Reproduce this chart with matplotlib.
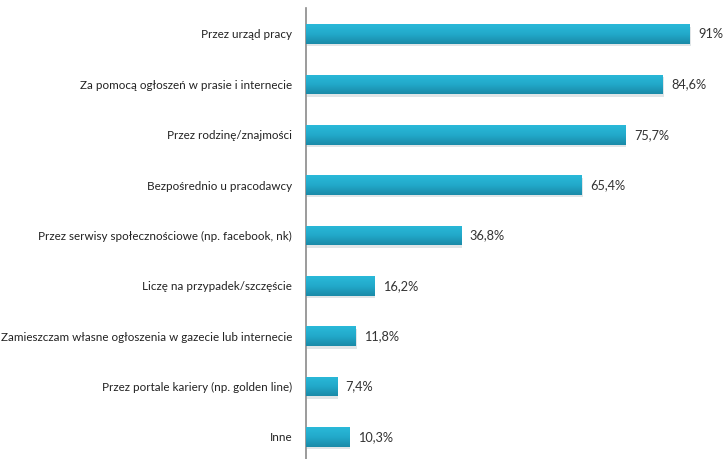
import matplotlib
matplotlib.use("Agg")
import matplotlib.pyplot as plt
import matplotlib.transforms as mtransforms
import numpy as np
from matplotlib.colors import LinearSegmentedColormap

categories = [
    "Przez urząd pracy",
    "Za pomocą ogłoszeń w prasie i internecie",
    "Przez rodzinę/znajmości",
    "Bezpośrednio u pracodawcy",
    "Przez serwisy społecznościowe (np. facebook, nk)",
    "Liczę na przypadek/szczęście",
    "Zamieszczam własne ogłoszenia w gazecie lub internecie",
    "Przez portale kariery (np. golden line)",
    "Inne",
]
values = [91, 84.6, 75.7, 65.4, 36.8, 16.2, 11.8, 7.4, 10.3]
value_labels = ["91%", "84,6%", "75,7%", "65,4%", "36,8%", "16,2%", "11,8%", "7,4%", "10,3%"]

plt.rcParams['font.family'] = ['Lato', 'DejaVu Sans']

fig = plt.figure(figsize=(7.25, 4.59), dpi=100)
ax = fig.add_axes([306/725, 0, 1 - 306/725, 1 - 8/459])

y = np.arange(len(categories))
bar_h = 0.39

# shadow
shadow_tr = ax.transData + mtransforms.ScaledTranslation(1.0/100, -2.5/100, fig.dpi_scale_trans)
ax.barh(y, values, height=bar_h, color="#c3cdd0", alpha=0.5, transform=shadow_tr, zorder=1)

bars = ax.barh(y, values, height=bar_h, color="#1fa6c7", zorder=2)

cmap = LinearSegmentedColormap.from_list("g", ["#2ab9d9", "#22a9ca", "#1a8aa8"])
grad = np.linspace(0, 1, 64).reshape(-1, 1)
for b in bars:
    x0, y0 = b.get_x(), b.get_y()
    w, h = b.get_width(), b.get_height()
    # y axis is inverted: y0 is visually the top edge
    im = ax.imshow(grad, extent=[x0, x0 + w, y0 + h, y0], aspect="auto",
                   cmap=cmap, origin="upper", zorder=3)
    im.set_clip_path(b)

for yi, v, lab in zip(y, values, value_labels):
    ax.text(v + 2.0, yi, lab, va="center", ha="left", fontsize=9.2, color="#333333", zorder=4)

ax.set_yticks(y)
ax.set_yticklabels(categories, fontsize=8.4, color="#222222")
ax.tick_params(axis="y", length=0, pad=10)
ax.set_xticks([])
ax.set_xlim(0, 99.3)
ax.set_ylim(8.437, -0.516)
for s in ["top", "right", "bottom"]:
    ax.spines[s].set_visible(False)
ax.spines["left"].set_color("#8a8a8a")
ax.spines["left"].set_linewidth(1.2)
ax.set_zorder(1)

fig.savefig("out.png", dpi=100)
